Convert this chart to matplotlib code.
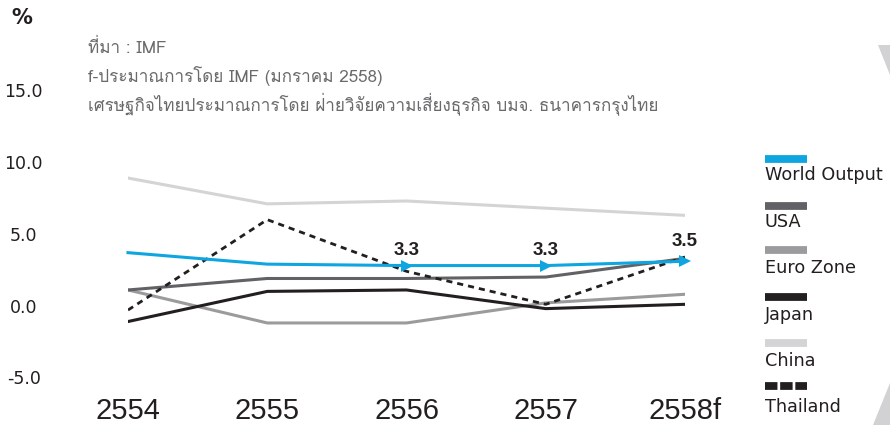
"""World GDP growth vs Thailand, 2554-2558f (IMF, Jan 2558)."""
import matplotlib
matplotlib.use("Agg")
import matplotlib.pyplot as plt
from matplotlib import font_manager
from matplotlib.ft2font import FT2Font
from matplotlib.lines import Line2D
from matplotlib.patches import Polygon

W, H = 890, 425

years = ["2554", "2555", "2556", "2557", "2558f"]
world = [3.7, 2.9, 2.8, 2.8, 3.1]
usa = [1.1, 1.9, 1.9, 2.0, 3.3]
euro = [1.1, -1.2, -1.2, 0.2, 0.8]
japan = [-1.1, 1.0, 1.1, -0.2, 0.1]
china = [8.9, 7.1, 7.3, 6.8, 6.3]
thailand = [-0.3, 6.0, 2.4, 0.1, 3.4]
series_names = ["World Output", "USA", "Euro Zone", "Japan", "China", "Thailand"]
world_labels = ["3.3", "3.3", "3.5"]
yticks = [-5.0, 0.0, 5.0, 10.0, 15.0]
notes = [
    "ที่มา : IMF",
    "f-ประมาณการโดย IMF (มกราคม 2558)",
    "เศรษฐกิจไทยประมาณการโดย ฝ่ายวิจัยความเสี่ยงธุรกิจ บมจ. ธนาคารกรุงไทย",
]

BLUE = "#0ea5e0"
DARK = "#231f20"
C_USA = "#626266"
C_EURO = "#9b9b9e"
C_CHINA = "#d4d4d6"
TXT = "#231f20"
NOTE = "#6a6a6c"


def thai_family():
    # first installed family that actually has Thai glyphs
    for f in font_manager.fontManager.ttflist:
        try:
            if 0x0E01 in FT2Font(f.fname).get_charmap():
                return f.name
        except Exception:
            pass
    return None


TH = thai_family()
NOTE_FAMILY = ([TH] if TH else []) + ["DejaVu Sans"]


def fx(x):
    return x / W


def fy(y):
    return 1 - y / H


fig = plt.figure(figsize=(W / 100, H / 100), dpi=100, facecolor="white")
ax = fig.add_axes([fx(128), fy(377.5), fx(685) - fx(128), fy(90.5) - fy(377.5)])
x = list(range(len(years)))

ax.plot(x, china, color=C_CHINA, lw=2.2, zorder=2)
ax.plot(x, euro, color=C_EURO, lw=2.2, zorder=3)
ax.plot(x, japan, color=DARK, lw=2.2, zorder=4)
ax.plot(x, usa, color=C_USA, lw=2.2, zorder=5)
ax.plot(x, thailand, color=DARK, lw=2.0, ls=(0, (2.2, 1.8)), zorder=6)
ax.plot(x, world, color=BLUE, lw=2.2, marker=">", markevery=[2, 3, 4],
        markersize=9, markeredgewidth=0, zorder=7, clip_on=False)

for i, lab in zip([2, 3, 4], world_labels):
    off = 8 if i == 4 else 5
    ax.annotate(lab, (x[i], world[i]), xytext=(0, off), textcoords="offset points",
                ha="center", va="bottom", fontsize=13.5, fontweight="bold",
                family="Liberation Sans", color=TXT)

ax.set_xlim(0, 4)
ax.set_ylim(-5, 15)
ax.set_xticks(x)
ax.set_xticklabels(years, fontsize=21, family="Liberation Sans", color=TXT)
ax.set_yticks(yticks)
ax.set_yticklabels([f"{v:.1f}" for v in yticks], fontsize=12.5,
                   family="DejaVu Sans", color=TXT)
for t in ax.get_yticklabels():
    t.set_ha("center")
ax.tick_params(axis="y", length=0, pad=75)
ax.tick_params(axis="x", length=0, pad=14)
for s in ax.spines.values():
    s.set_visible(False)
ax.set_facecolor("none")

# "%" unit and source notes
fig.text(fx(22), fy(18), "%", fontsize=15, fontweight="bold", color=TXT,
         ha="center", va="center", family="DejaVu Sans")
for i, line in enumerate(notes):
    fig.text(fx(88), fy(48 + 28 * i), line, fontsize=12.3, color=NOTE,
             ha="left", va="center", family=NOTE_FAMILY)

# legend: swatch above each name
styles = [
    dict(color=BLUE, ls="-"),
    dict(color=C_USA, ls="-"),
    dict(color=C_EURO, ls="-"),
    dict(color=DARK, ls="-"),
    dict(color=C_CHINA, ls="-"),
    dict(color=DARK, ls=(0, (1.6, 0.35))),
]
sw_y = [159, 205.5, 250.5, 297, 343, 386]
tx_y = [175, 222, 268, 315, 361, 407]
for name, st, sy, ty in zip(series_names, styles, sw_y, tx_y):
    fig.add_artist(Line2D([fx(765), fx(807)], [fy(sy), fy(sy)], lw=5.6,
                          solid_capstyle="butt", dash_capstyle="butt", **st))
    fig.text(fx(765), fy(ty), name, fontsize=12.7, color=TXT, ha="left",
             va="center", family="DejaVu Sans")

# decorative background wedges
for pts in [[(878, 45), (890, 45), (890, 75)], [(890, 383), (873, 425), (890, 425)]]:
    fig.add_artist(Polygon([(fx(a), fy(b)) for a, b in pts], closed=True,
                           facecolor="#d2d2d4", edgecolor="none", zorder=0))

fig.savefig("out.png", dpi=100, facecolor="white")
